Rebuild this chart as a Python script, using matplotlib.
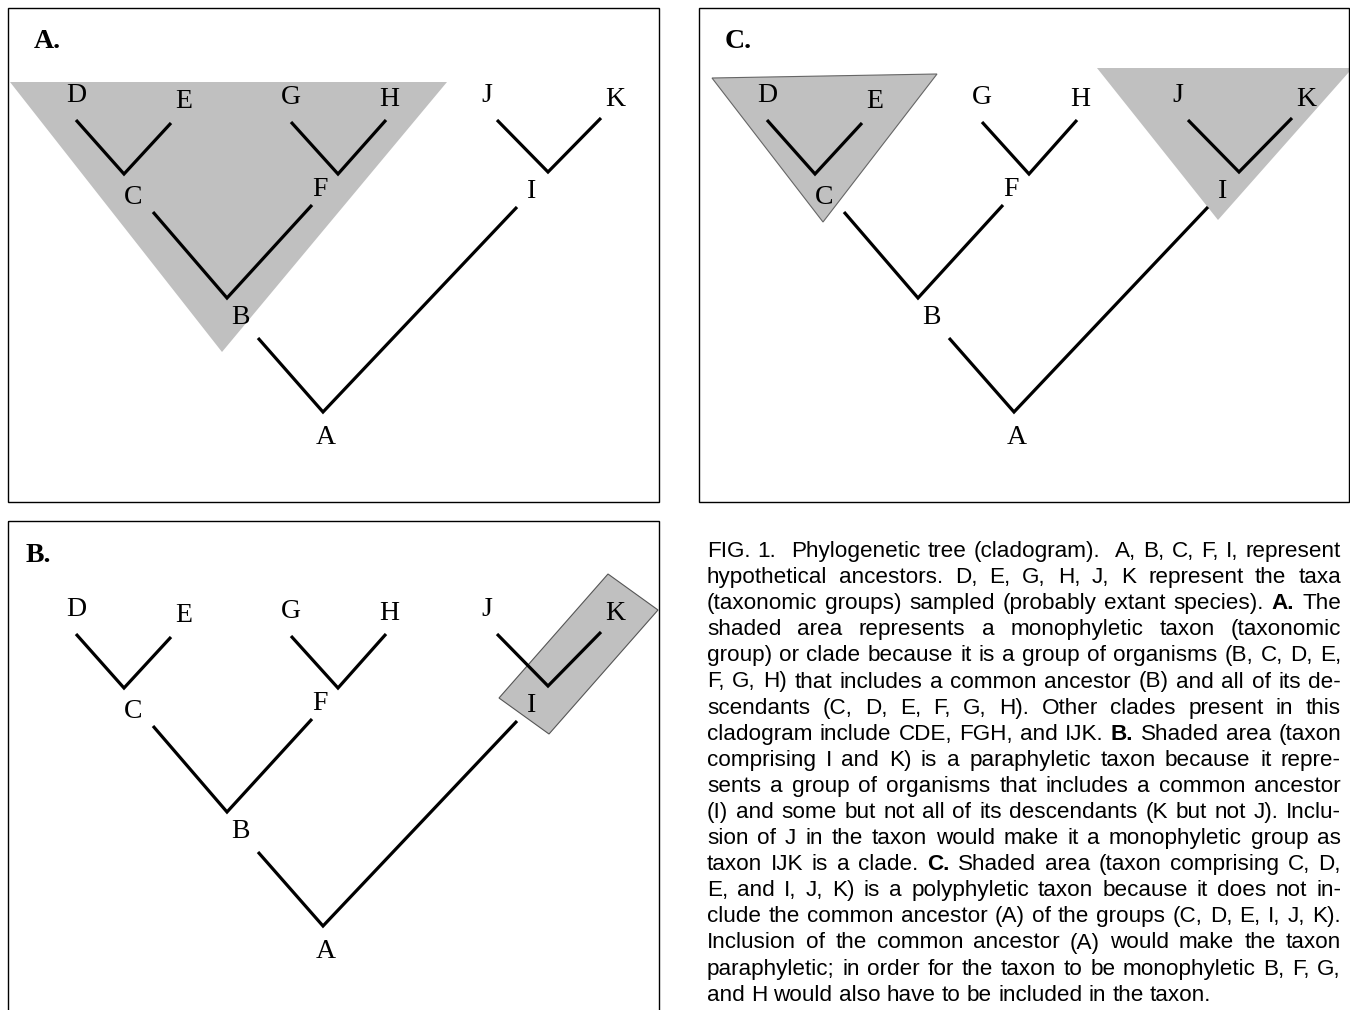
# Cladogram figure: three panels (A, B, C) and a justified caption
import matplotlib.pyplot as plt
from matplotlib.patches import Polygon, Rectangle

# ── tree data (panel-local pixel coords, y downwards) ──────────
# each branch is a V: (start, vertex, end)
branches = {
    'CDE': [(76, 120), (124, 174), (171, 123)],
    'FGH': [(291, 122), (338, 174), (386, 120)],
    'IJK': [(497, 120), (548, 172), (601, 118)],
    'BCF': [(153, 212), (227, 298), (312, 205)],
    'ABI': [(258, 338), (323, 412), (517, 207)],
}
node_names = ['D', 'E', 'G', 'H', 'J', 'K', 'C', 'F', 'I', 'B', 'A']
node_x = [76, 184, 291, 389, 487, 615, 133, 320, 532, 240, 326]
node_y = [96, 101, 97, 100, 96, 99, 198, 190, 191, 318, 438]

# panel offsets and boxes
panel_names = ['A.', 'B.', 'C.']
panel_dx = [0, 0, 691]
panel_dy = [0, 514, 0]
panel_label_x = [34, 26, 725]
panel_label_y = [42, 556, 42]
panel_boxes = [(8, 8, 651, 494), (8, 521, 651, 500), (699, 8, 650, 494)]

# shaded groups (absolute pixel coords)
shade_A = [(10, 82), (447, 82), (222, 352)]
shade_B = [(608, 574), (658, 610), (549, 734), (499, 698)]
shade_C1 = [(712, 78), (937, 74), (823, 222)]
shade_C2 = [(1097, 68), (1349, 68), (1349, 72), (1218, 220)]

caption = [
    "FIG. 1.  Phylogenetic tree (cladogram).  A, B, C, F, I, represent",
    "hypothetical ancestors. D, E, G, H, J, K represent the taxa",
    "(taxonomic groups) sampled (probably extant species). *A.* The",
    "shaded area represents a monophyletic taxon (taxonomic",
    "group) or clade because it is a group of organisms (B, C, D, E,",
    "F, G, H) that includes a common ancestor (B) and all of its de-",
    "scendants (C, D, E, F, G, H). Other clades present in this",
    "cladogram include CDE, FGH, and IJK. *B.* Shaded area (taxon",
    "comprising I and K) is a paraphyletic taxon because it repre-",
    "sents a group of organisms that includes a common ancestor",
    "(I) and some but not all of its descendants (K but not J). Inclu-",
    "sion of J in the taxon would make it a monophyletic group as",
    "taxon IJK is a clade. *C.* Shaded area (taxon comprising C, D,",
    "E, and I, J, K) is a polyphyletic taxon because it does not in-",
    "clude the common ancestor (A) of the groups (C, D, E, I, J, K).",
    "Inclusion of the common ancestor (A) would make the taxon",
    "paraphyletic; in order for the taxon to be monophyletic B, F, G,",
    "and H would also have to be included in the taxon.",
]

# ── figure ─────────────────────────────────────────────────────
fig = plt.figure(figsize=(13.5, 10.1), dpi=100)
ax = fig.add_axes([0, 0, 1, 1])
ax.set_xlim(0, 1350)
ax.set_ylim(1010, 0)
ax.axis('off')

serif = 'Liberation Serif'
sans = 'Liberation Sans'
gray = '#c0c0c0'

# shaded areas first (behind the tree)
ax.add_patch(Polygon(shade_A, closed=True, fc=gray, ec='none', zorder=1))
ax.add_patch(Polygon(shade_B, closed=True, fc=gray, ec='#555555', lw=0.8, zorder=1))
ax.add_patch(Polygon(shade_C1, closed=True, fc=gray, ec='#666666', lw=0.8, zorder=1))
ax.add_patch(Polygon(shade_C2, closed=True, fc=gray, ec='none', zorder=1))

for name, dx, dy, lx, ly, box in zip(panel_names, panel_dx, panel_dy,
                                     panel_label_x, panel_label_y, panel_boxes):
    bx, by, bw, bh = box
    ax.add_patch(Rectangle((bx, by), bw, bh, fill=False, ec='black', lw=1.0,
                           zorder=3, clip_on=False))
    ax.text(lx, ly, name, fontsize=20, fontweight='bold', family=serif,
            ha='left', va='center', zorder=4)
    for pts in branches.values():
        xs = [p[0] + dx for p in pts]
        ys = [p[1] + dy for p in pts]
        ax.plot(xs, ys, color='black', lw=2.3, solid_capstyle='butt',
                solid_joinstyle='miter', zorder=2)
    for n, x, y in zip(node_names, node_x, node_y):
        ax.text(x + dx, y + dy, n, fontsize=20, family=serif,
                ha='center', va='center', zorder=4)

# ── justified caption ──────────────────────────────────────────
cap_x0, cap_x1 = 707, 1341
cap_y0, cap_dy = 557, 26.1     # baseline of the first line
r = fig.canvas.get_renderer()

# calibrate font size on the last (unjustified) line, 504 px wide in the picture
probe = ax.text(0, 0, caption[-1], fontsize=10, family=sans)
w10 = probe.get_window_extent(r).width
probe.remove()
cap_size = 10 * 504 / w10

space = ax.text(0, 0, 'a a', fontsize=cap_size, family=sans)
sp_w = space.get_window_extent(r).width
space.set_text('aa')
sp_w -= space.get_window_extent(r).width
space.remove()

for i, line in enumerate(caption):
    y = cap_y0 + i * cap_dy
    # double spaces count as two gaps
    parts = line.split(' ')
    items = []      # (text, width, gaps before)
    pending = 0
    for w in parts:
        if w == '':
            pending += 1
            continue
        bold = w.startswith('*') and w.endswith('*')
        t = ax.text(0, y, w.strip('*'), fontsize=cap_size, family=sans,
                    fontweight='bold' if bold else 'normal',
                    ha='left', va='baseline')
        items.append((t, t.get_window_extent(r).width, pending + 1 if items else 0))
        pending = 0
    total = sum(wd for _, wd, _ in items)
    n_gaps = sum(g for _, _, g in items)
    if i < len(caption) - 1 and n_gaps > 0:
        gap = (cap_x1 - cap_x0 - total) / n_gaps
    else:
        gap = sp_w
    x = cap_x0
    for t, wd, g in items:
        x += g * gap
        t.set_x(x)
        x += wd

fig.savefig('out.png', dpi=100, facecolor='white')
